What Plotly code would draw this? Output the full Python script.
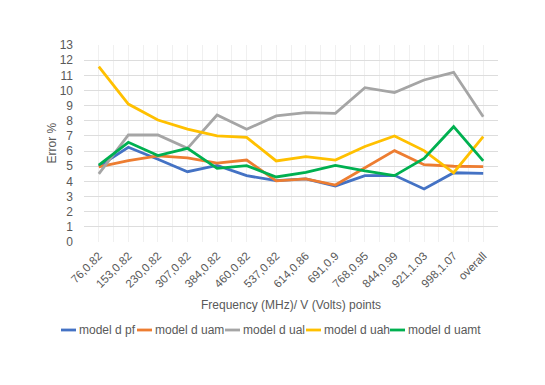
import plotly.graph_objects as go

labels = ["76,0.82", "153,0.82", "230,0.82", "307,0.82", "384,0.82", "460,0.82", "537,0.82",
          "614,0.86", "691,0.9", "768,0.95", "844,0.99", "921,1.03", "998,1.07", "overall"]

pf = [5.0, 6.25, 5.46, 4.64, 5.05, 4.38, 4.05, 4.16, 3.7, 4.38, 4.4, 3.5, 4.57, 4.53]
uam = [4.95, 5.37, 5.68, 5.55, 5.2, 5.41, 4.03, 4.16, 3.76, 4.9, 6.03, 5.1, 5.0, 4.97]
ual = [4.49, 7.06, 7.06, 6.18, 8.38, 7.44, 8.32, 8.54, 8.49, 10.18, 9.86, 10.69, 11.2, 8.27]
uah = [11.57, 9.1, 8.05, 7.45, 7.0, 6.9, 5.35, 5.63, 5.41, 6.3, 7.0, 6.03, 4.57, 6.95]
uamt = [5.08, 6.58, 5.7, 6.18, 4.86, 5.04, 4.29, 4.6, 5.06, 4.69, 4.38, 5.52, 7.61, 5.35]

series = [
    ("model d pf", pf, "#4472C4"),
    ("model d uam", uam, "#ED7D31"),
    ("model d ual", ual, "#A5A5A5"),
    ("model d uah", uah, "#FFC000"),
    ("model d uamt", uamt, "#00B050"),
]

# page body has an 8px margin, so the figure sits 8px in from the window edge
OFF = 8
W, H = 545 - OFF, 385 - OFF
L, T = 84 - OFF, 45 - OFF
pw, ph = 414, 197
R, B = W - L - pw, H - T - ph


def px(xpix):
    return (xpix - OFF - L) / pw


def py(ypix):
    return (T + ph - (ypix - OFF)) / ph


x = list(range(len(labels)))
txt = "#595959"
family = "Liberation Sans, Arial, sans-serif"

fig = go.Figure()
for name, vals, col in series:
    fig.add_trace(go.Scatter(x=x, y=vals, name=name, mode="lines", showlegend=False,
                             line=dict(color=col, width=2.8)))

# legend drawn by hand (Excel style short keys)
legend_x = [61, 137, 225, 306, 390]
ly = py(330)
for (name, vals, col), lx in zip(series, legend_x):
    fig.add_shape(type="line", xref="paper", yref="paper",
                  x0=px(lx), x1=px(lx + 15), y0=ly, y1=ly,
                  line=dict(color=col, width=2.8))
    fig.add_annotation(xref="paper", yref="paper", x=px(lx + 15.5), y=ly,
                       xanchor="left", yanchor="middle", showarrow=False,
                       text=name, font=dict(family=family, size=12, color=txt))

# axis titles
fig.add_annotation(xref="paper", yref="paper", x=0.5, y=py(305),
                   xanchor="center", yanchor="middle", showarrow=False,
                   text="Frequency (MHz)/ V (Volts) points",
                   font=dict(family=family, size=12, color=txt))
fig.add_annotation(xref="paper", yref="paper", x=px(51), y=0.5, textangle=-90,
                   xanchor="center", yanchor="middle", showarrow=False,
                   text="Error %", font=dict(family=family, size=12, color=txt))

fig.update_layout(
    width=W, height=H,
    margin=dict(l=L, r=R, t=T, b=B),
    paper_bgcolor="white", plot_bgcolor="white",
    font=dict(family=family, size=12, color=txt),
    showlegend=False,
    xaxis=dict(
        range=[-0.5, 13.5], tickmode="array", tickvals=x, ticktext=labels,
        tickangle=-45, showgrid=True, gridcolor="#F0F0F0", gridwidth=1,
        zeroline=False, showline=False, ticks="", automargin=False,
        ticklabelstandoff=4, tickfont=dict(size=11.5, color=txt),
        minor=dict(tickmode="linear", tick0=-0.5, dtick=1, showgrid=True,
                   gridcolor="#F0F0F0", gridwidth=1),
    ),
    yaxis=dict(
        range=[0, 13], dtick=1, showgrid=True, gridcolor="#DDDDDD", gridwidth=1,
        zeroline=False, ticks="", automargin=False, ticklabelstandoff=10,
        tickfont=dict(size=12, color=txt),
    ),
)

fig.write_html("out.html")
